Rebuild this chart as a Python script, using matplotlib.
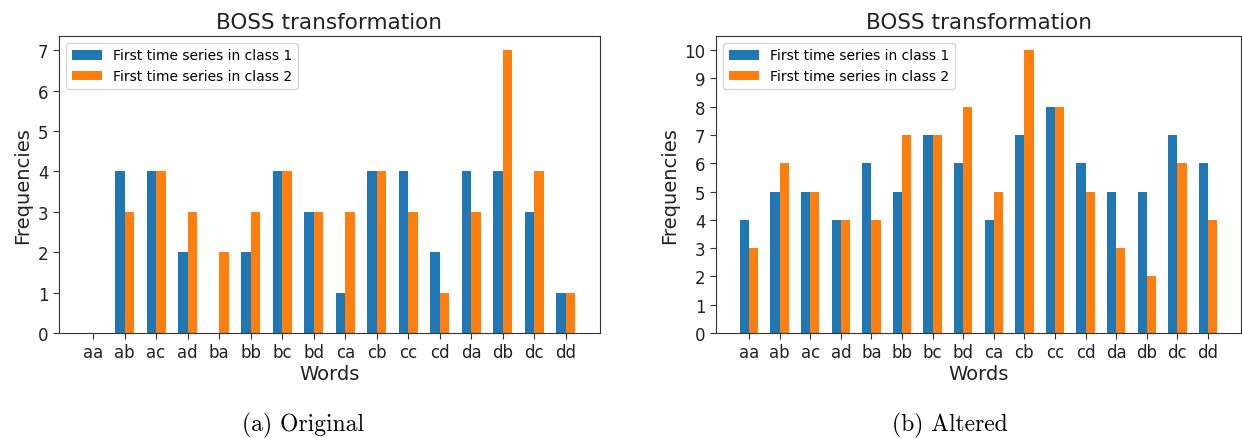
import numpy as np
import matplotlib
matplotlib.use("Agg")
import matplotlib.pyplot as plt

words = ["aa", "ab", "ac", "ad", "ba", "bb", "bc", "bd",
         "ca", "cb", "cc", "cd", "da", "db", "dc", "dd"]
orig_class1 = [0, 4, 4, 2, 0, 2, 4, 3, 1, 4, 4, 2, 4, 4, 3, 1]
orig_class2 = [0, 3, 4, 3, 2, 3, 4, 3, 3, 4, 3, 1, 3, 7, 4, 1]
alt_class1 = [4, 5, 5, 4, 6, 5, 7, 6, 4, 7, 8, 6, 5, 5, 7, 6]
alt_class2 = [3, 6, 5, 4, 4, 7, 7, 8, 5, 10, 8, 5, 3, 2, 6, 4]
series_labels = ["First time series in class 1", "First time series in class 2"]
titles = ["BOSS transformation", "BOSS transformation"]
captions = ["(a) Original", "(b) Altered"]

W, H = 1242, 439
fig = plt.figure(figsize=(W / 100, H / 100), dpi=100)

axes_px = [(59, 37, 600, 334), (716, 37, 1241, 334)]
caption_x = [303, 950]
datasets = [(orig_class1, orig_class2), (alt_class1, alt_class2)]

spine_c = "#333333"
for i, ((l, t, r, b), (c1, c2)) in enumerate(zip(axes_px, datasets)):
    ax = fig.add_axes([l / W, 1 - b / H, (r - l) / W, (b - t) / H])
    x = np.arange(len(words))
    w = 0.3
    ax.bar(x - w / 2, c1, width=w, color="#1f77b4", label=series_labels[0])
    ax.bar(x + w / 2, c2, width=w, color="#ff7f0e", label=series_labels[1])
    ax.set_xticks(x)
    ax.set_xticklabels(words)
    ax.yaxis.set_major_locator(matplotlib.ticker.MultipleLocator(1))
    ax.tick_params(labelsize=12, colors="#333333", length=4)
    ax.tick_params(labelcolor="#222222")
    for s in ax.spines.values():
        s.set_color(spine_c)
    ax.set_title(titles[i], fontsize=15.5, color="#222222", pad=6)
    ax.set_xlabel("Words", fontsize=14, color="#222222", labelpad=2)
    ax.set_ylabel("Frequencies", fontsize=14, color="#222222", labelpad=4)
    ax.legend(loc="upper left", fontsize=10, handlelength=2.2)
    fig.text(caption_x[i] / W, 1 - 425 / H, captions[i], ha="center", va="center",
             fontsize=17, family="cmr10")

fig.savefig("out.png", dpi=100)
